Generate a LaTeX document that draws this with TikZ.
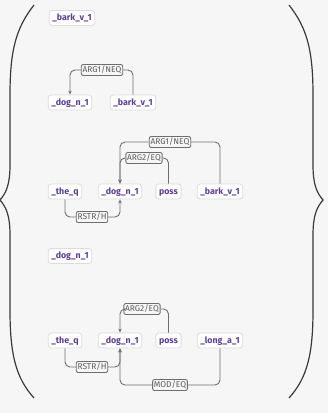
\documentclass[tikz,border=0pt]{standalone}
\usepackage{fontspec}
\setmainfont{Fira Sans}
\usetikzlibrary{arrows.meta}
\definecolor{bg}{HTML}{F6F6F6}
\definecolor{pred}{HTML}{5B3F8F}
\definecolor{nodeborder}{HTML}{DCDCDC}
\definecolor{edgecol}{HTML}{6E6E6E}
\definecolor{labtext}{HTML}{5E5E5E}
\definecolor{bracecol}{HTML}{3A3A3A}
\tikzset{
  ep/.style={draw=nodeborder, line width=0.8pt, fill=white, rounded corners=3pt,
    text=pred, font=\fontsize{8.8}{10}\selectfont\bfseries, inner xsep=3.2pt, inner ysep=3pt,
    text height=7pt, text depth=2pt},
  rolelab/.style={draw=edgecol, line width=0.9pt, fill=bg, rounded corners=2pt,
    text=labtext, font=\fontsize{8.4}{9}\selectfont, inner xsep=1.3pt, inner ysep=1.5pt,
    text height=6.5pt, text depth=1.5pt},
  edge/.style={draw=edgecol, line width=0.9pt, rounded corners=5pt},
  arr/.style={edge, -{Stealth[length=4pt,width=3.5pt]}},
  bracestyle/.style={draw=bracecol, line width=1.2pt},
}
\begin{document}
\begin{tikzpicture}[x=1pt,y=-1pt]
\useasboundingbox[fill=bg] (0,0) rectangle (328,413);
% braces
\draw[bracestyle] (34,5) .. controls (16,28) and (10,50) .. (10,95) -- (10,165)
  .. controls (10,185) and (6,193) .. (0,200) .. controls (6,207) and (10,215) .. (10,235)
  -- (10,310) .. controls (10,355) and (16,378) .. (34,398);
\draw[bracestyle] (289,5) .. controls (307,28) and (313,50) .. (313,95) -- (313,165)
  .. controls (313,185) and (317,193) .. (323,200) .. controls (317,207) and (313,215) .. (313,235)
  -- (313,310) .. controls (313,355) and (307,378) .. (289,398);
% graph 1
\node[ep] (b1) at (72,18) {\_bark\_v\_1};
% graph 2
\node[ep] (d2) at (70,102.5) {\_dog\_n\_1};
\node[ep] (b2) at (133,102.5) {\_bark\_v\_1};
\node[rolelab] (l2) at (102,70) {ARG1/NEQ};
\draw[edge] (b2.north) |- (l2.east);
\draw[arr] (l2.west) -| (d2.north);
% graph 3
\node[ep] (t3) at (65,191.5) {\_the\_q};
\node[ep] (d3) at (120,191.5) {\_dog\_n\_1};
\node[ep] (p3) at (168.5,191.5) {poss};
\node[ep] (b3) at (220,191.5) {\_bark\_v\_1};
\node[rolelab] (a13) at (170,142) {ARG1/NEQ};
\node[rolelab] (a23) at (144,158) {ARG2/EQ};
\node[rolelab] (r3) at (92,217) {RSTR/H};
\draw[edge] (b3.north) |- (a13.east);
\draw[arr] (a13.west) -| (d3.north);
\draw[edge] (p3.north) |- (a23.east);
\draw[arr] (a23.west) -| (d3.north);
\draw[edge] (t3.south) |- (r3.west);
\draw[arr] (r3.east) -| (d3.south);
% graph 4
\node[ep] (d4) at (70,256) {\_dog\_n\_1};
% graph 5
\node[ep] (t5) at (65,340.5) {\_the\_q};
\node[ep] (d5) at (120,340.5) {\_dog\_n\_1};
\node[ep] (p5) at (168.5,340.5) {poss};
\node[ep] (g5) at (220,340.5) {\_long\_a\_1};
\node[rolelab] (a25) at (142,309) {ARG2/EQ};
\node[rolelab] (r5) at (92,367) {RSTR/H};
\node[rolelab] (m5) at (170,385) {MOD/EQ};
\draw[edge] (p5.north) |- (a25.east);
\draw[arr] (a25.west) -| (d5.north);
\draw[edge] (t5.south) |- (r5.west);
\draw[arr] (r5.east) -| (d5.south);
\draw[edge] (g5.south) |- (m5.east);
\draw[arr] (m5.west) -| (d5.south);
% ellipsis
\node[text=black, font=\fontsize{12}{12}\selectfont, anchor=base] (dots) at (77,415.5) {\ldots};
\end{tikzpicture}
\end{document}
